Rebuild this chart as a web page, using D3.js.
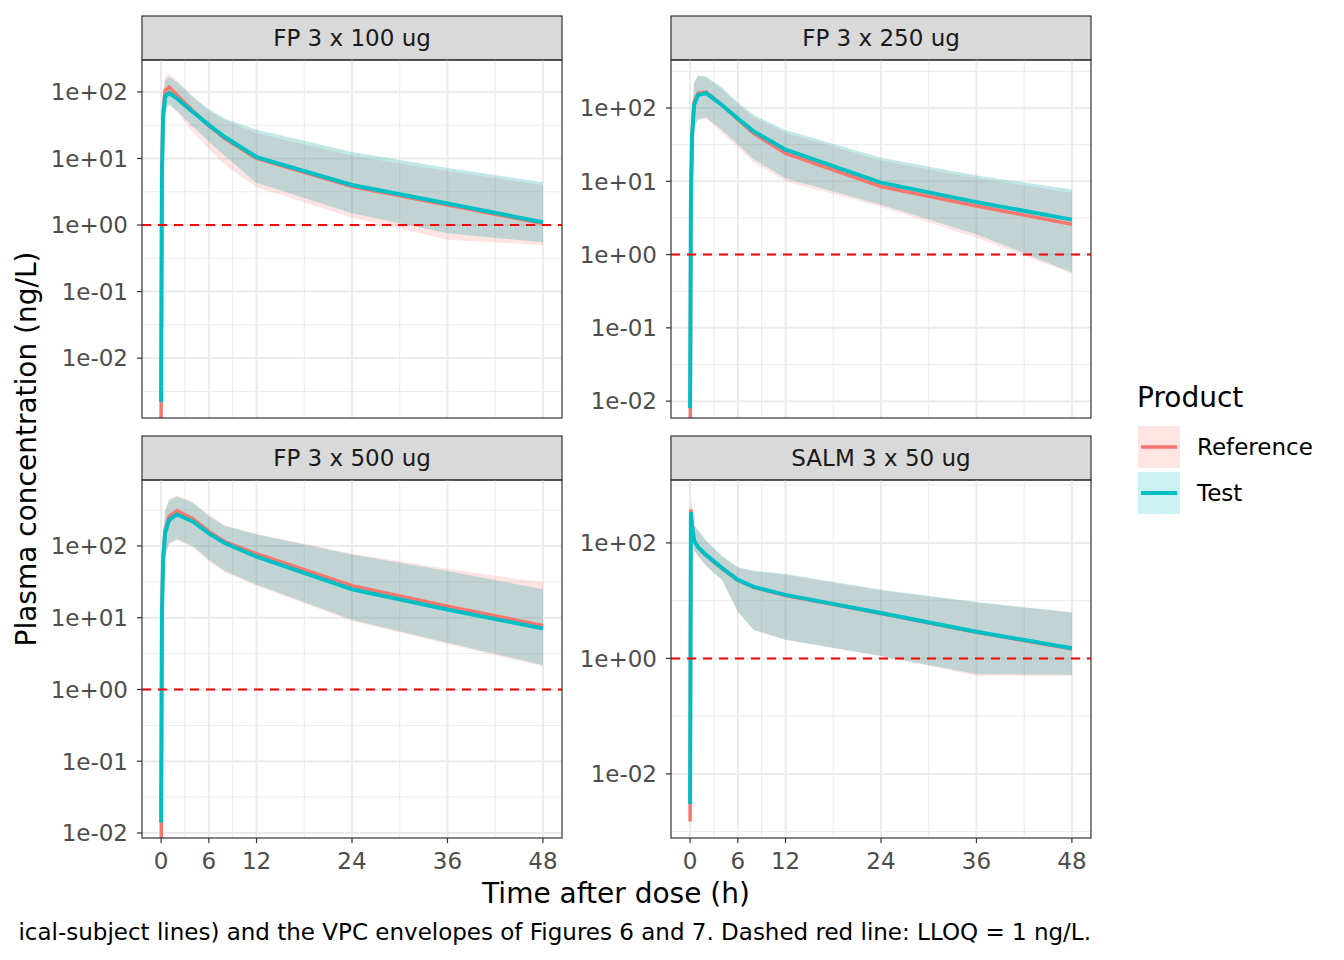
<!DOCTYPE html>
<html><head><meta charset="utf-8">
<script src="https://cdn.jsdelivr.net/npm/d3@7"></script>
<style>body{margin:0;background:#fff}text{font-family:"DejaVu Sans",sans-serif}</style>
</head><body><svg id="chart" width="1344" height="960"></svg>
<script>
'use strict';

var times = [0, 0.1, 0.25, 0.5, 1, 2, 4, 6, 8, 12, 24, 36, 48];
var panelNames = ["FP 3 x 100 ug", "FP 3 x 250 ug", "FP 3 x 500 ug", "SALM 3 x 50 ug"];
var xTicks = [0, 6, 12, 24, 36, 48];
var xMinor = [3, 9, 18, 30, 42];
var LLOQ = 1;

// per panel: median, low, high for Reference and Test
var refMed = [
    [0.001, 6, 50, 105, 118, 90, 52, 31, 20, 10, 3.8, 2.0, 1.05],
    [0.001, 6, 45, 120, 160, 165, 110, 70, 45, 24, 8.5, 4.6, 2.6],
    [0.001, 12, 70, 170, 260, 310, 240, 160, 115, 78, 28, 14.5, 7.8],
    [0.0015, 380, 210, 110, 84, 61, 36, 22.5, 17, 12.3, 6.0, 2.85, 1.45]
];
var refLow = [
    [0.0005, 2, 20, 55, 70, 50, 25, 14, 8, 3.7, 1.3, 0.6, 0.5],
    [0.0005, 2, 18, 55, 68, 72, 46, 29, 18, 10, 4.5, 1.7, 0.55],
    [0.0005, 4, 25, 70, 105, 120, 95, 62, 43, 28, 9, 4.3, 2.1],
    [0.0008, 200, 120, 75, 60, 40, 23, 6.4, 3.1, 2.1, 1.1, 0.5, 0.5]
];
var refHigh = [
    [0.003, 12, 90, 170, 190, 150, 85, 52, 38, 24, 11, 6.5, 4.0],
    [0.003, 11, 85, 230, 280, 265, 180, 112, 75, 46, 19, 11, 7],
    [0.005, 22, 130, 320, 450, 500, 410, 270, 195, 148, 78, 48, 31],
    [0.005, 580, 350, 200, 165, 105, 58, 37, 32, 28, 15, 9.3, 6.2]
];
var testMed = [
    [0.0022, 5, 40, 85, 96, 80, 50, 32, 21, 10.5, 4, 2.1, 1.1],
    [0.008, 5, 40, 110, 150, 160, 110, 72, 48, 27, 9.6, 5.2, 3],
    [0.014, 10, 60, 150, 230, 275, 220, 150, 110, 71, 25, 13, 7.1],
    [0.003, 340, 200, 110, 85, 62, 37, 23, 17.3, 12.6, 6.1, 2.9, 1.5]
];
var testLow = [
    [0.001, 2, 20, 50, 63, 52, 30, 18, 11, 4.3, 1.5, 0.75, 0.55],
    [0.004, 2, 18, 55, 70, 75, 50, 32, 20, 11, 4.8, 1.9, 0.57],
    [0.007, 4, 25, 70, 110, 125, 100, 65, 45, 29, 9.4, 4.5, 2.2],
    [0.0015, 200, 120, 75, 60, 40, 23, 6.4, 3.1, 2.1, 1.1, 0.54, 0.52]
];
var testHigh = [
    [0.004, 10, 80, 150, 168, 140, 85, 55, 40, 27, 12.5, 7.2, 4.4],
    [0.012, 10, 80, 220, 275, 270, 190, 120, 80, 50, 21, 12, 7.7],
    [0.02, 20, 120, 300, 430, 490, 400, 260, 190, 145, 76, 45, 25],
    [0.006, 560, 350, 200, 170, 110, 60, 38, 33, 29, 15.4, 9.5, 6.3]
];
// y domains (log10) and tick exponents per panel
var yDomains = [[-2.90, 2.48], [-2.23, 2.655], [-2.07, 2.92], [-3.11, 3.09]];
var yTickExp = [[-2, -1, 0, 1, 2], [-2, -1, 0, 1, 2], [-2, -1, 0, 1, 2], [-2, 0, 2]];

var COL_REF = "#F8766D", COL_TEST = "#00BFC4";
var FS = 23;
var svg = d3.select("#chart");

var panels = [
    {x: 142, y: 60}, {x: 671, y: 60}, {x: 142, y: 480}, {x: 671, y: 480}
];
var PW = 420, PH = 358;

function fmtExp(e) {
    return "1e" + (e < 0 ? "-" : "+") + d3.format("02d")(Math.abs(e));
}

panels.forEach(function (p, i) {
    var x = d3.scaleLinear().domain([-2.4, 50.4]).range([p.x, p.x + PW]);
    var y = d3.scaleLinear().domain(yDomains[i]).range([p.y + PH, p.y]);
    var g = svg.append("g");

    // strip
    g.append("rect").attr("x", p.x).attr("y", p.y - 44).attr("width", PW).attr("height", 44)
        .attr("fill", "#D9D9D9").attr("stroke", "#333").attr("stroke-width", 1.2);
    g.append("text").attr("x", p.x + PW / 2).attr("y", p.y - 22).attr("dy", "0.36em").attr("text-anchor", "middle")
        .attr("font-size", FS).attr("fill", "#1A1A1A").text(panelNames[i]);

    // grid
    var exps = yTickExp[i];
    var step = exps[1] - exps[0];
    var minorY = exps.slice(0, -1).map(function (e) { return e + step / 2; });
    minorY.push(exps[0] - step / 2, exps[exps.length - 1] + step / 2);
    minorY.forEach(function (e) {
        if (e < yDomains[i][0] || e > yDomains[i][1]) return;
        g.append("line").attr("x1", p.x).attr("x2", p.x + PW).attr("y1", y(e)).attr("y2", y(e))
            .attr("stroke", "#EBEBEB").attr("stroke-width", 1);
    });
    xMinor.forEach(function (t) {
        g.append("line").attr("x1", x(t)).attr("x2", x(t)).attr("y1", p.y).attr("y2", p.y + PH)
            .attr("stroke", "#EBEBEB").attr("stroke-width", 1);
    });
    exps.forEach(function (e) {
        g.append("line").attr("x1", p.x).attr("x2", p.x + PW).attr("y1", y(e)).attr("y2", y(e))
            .attr("stroke", "#EBEBEB").attr("stroke-width", 2);
    });
    xTicks.forEach(function (t) {
        g.append("line").attr("x1", x(t)).attr("x2", x(t)).attr("y1", p.y).attr("y2", p.y + PH)
            .attr("stroke", "#EBEBEB").attr("stroke-width", 2);
    });

    var clipId = "clip" + i;
    svg.append("clipPath").attr("id", clipId).append("rect")
        .attr("x", p.x).attr("y", p.y).attr("width", PW).attr("height", PH);
    var gc = g.append("g").attr("clip-path", "url(#" + clipId + ")");

    var lg = function (v) { return Math.log10(v); };
    var area = d3.area().x(function (d) { return x(d.t); })
        .y0(function (d) { return y(lg(d.lo)); }).y1(function (d) { return y(lg(d.hi)); });
    var line = d3.line().x(function (d) { return x(d.t); }).y(function (d) { return y(lg(d.v)); });

    function series(med, lo, hi) {
        return times.map(function (t, k) { return {t: t, v: med[i][k], lo: lo[i][k], hi: hi[i][k]}; });
    }
    var ref = series(refMed, refLow, refHigh);
    var test = series(testMed, testLow, testHigh);

    gc.append("path").datum(ref).attr("d", area).attr("fill", COL_REF).attr("fill-opacity", 0.2);
    gc.append("path").datum(test).attr("d", area).attr("fill", COL_TEST).attr("fill-opacity", 0.2);
    gc.append("path").datum(test).attr("d", area).attr("fill", "#7a9a9a").attr("fill-opacity", 0.12);
    gc.append("path").datum(ref).attr("d", line).attr("fill", "none")
        .attr("stroke", COL_REF).attr("stroke-width", 3.5);
    gc.append("path").datum(test).attr("d", line).attr("fill", "none")
        .attr("stroke", COL_TEST).attr("stroke-width", 4);

    gc.append("line").attr("x1", p.x).attr("x2", p.x + PW).attr("y1", y(lg(LLOQ))).attr("y2", y(lg(LLOQ)))
        .attr("stroke", "#FF0000").attr("stroke-width", 2).attr("stroke-dasharray", "9,7");

    g.append("rect").attr("x", p.x).attr("y", p.y).attr("width", PW).attr("height", PH)
        .attr("fill", "none").attr("stroke", "#333").attr("stroke-width", 1.2);

    // y axis
    exps.forEach(function (e) {
        g.append("line").attr("x1", p.x - 5).attr("x2", p.x).attr("y1", y(e)).attr("y2", y(e))
            .attr("stroke", "#333").attr("stroke-width", 1.2);
        g.append("text").attr("x", p.x - 14).attr("y", y(e)).attr("dy", "0.36em").attr("text-anchor", "end")
            .attr("font-size", FS).attr("fill", "#4D4D4D").text(fmtExp(e));
    });
    // x axis on bottom row
    if (i >= 2) {
        xTicks.forEach(function (t) {
            g.append("line").attr("x1", x(t)).attr("x2", x(t)).attr("y1", p.y + PH).attr("y2", p.y + PH + 5)
                .attr("stroke", "#333").attr("stroke-width", 1.2);
            g.append("text").attr("x", x(t)).attr("y", p.y + PH + 31).attr("text-anchor", "middle")
                .attr("font-size", FS).attr("fill", "#4D4D4D").text(t);
        });
    }
});

// axis titles
svg.append("text").attr("x", 616).attr("y", 903).attr("text-anchor", "middle")
    .attr("font-size", 28).attr("fill", "#000").text("Time after dose (h)");
svg.append("text").attr("transform", "translate(36,449) rotate(-90)").attr("text-anchor", "middle")
    .attr("font-size", 28).attr("fill", "#000").text("Plasma concentration (ng/L)");

// legend
svg.append("text").attr("x", 1137).attr("y", 407).attr("font-size", 28).attr("fill", "#000").text("Product");
[{name: "Reference", col: COL_REF, w: 3.5}, {name: "Test", col: COL_TEST, w: 4}].forEach(function (d, k) {
    var ky = 426 + k * 46;
    svg.append("rect").attr("x", 1138).attr("y", ky).attr("width", 42).attr("height", 42)
        .attr("fill", d.col).attr("fill-opacity", 0.2);
    svg.append("line").attr("x1", 1141).attr("x2", 1177).attr("y1", ky + 21).attr("y2", ky + 21)
        .attr("stroke", d.col).attr("stroke-width", d.w);
    svg.append("text").attr("x", 1197).attr("y", ky + 21).attr("dy", "0.36em")
        .attr("font-size", FS).attr("fill", "#000").text(d.name);
});

// caption (clipped at left as in the original)
svg.append("text").attr("x", 1091).attr("y", 940).attr("text-anchor", "end")
    .attr("font-size", FS).attr("fill", "#000")
    .text("ical-subject lines) and the VPC envelopes of Figures 6 and 7. Dashed red line: LLOQ = 1 ng/L.");
</script></body></html>
